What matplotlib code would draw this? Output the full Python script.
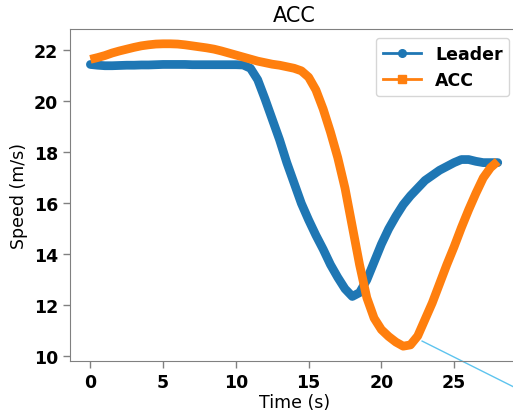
import matplotlib
matplotlib.use("Agg")
import matplotlib.pyplot as plt
from matplotlib.lines import Line2D

# Time samples (s)
time = [0, 0.5, 1, 1.5, 2, 2.5, 3, 3.5, 4, 4.5, 5, 5.5, 6, 6.5, 7, 7.5, 8, 8.5,
        9, 9.5, 10, 10.5, 11, 11.5, 12, 12.5, 13, 13.5, 14, 14.5, 15, 15.5, 16,
        16.5, 17, 17.5, 18, 18.5, 19, 19.5, 20, 20.5, 21, 21.5, 22, 22.5, 23,
        23.5, 24, 24.5, 25, 25.5, 26, 26.5, 27, 27.5, 28]

# Leader vehicle speed (m/s)
leader_speed = [21.45, 21.42, 21.40, 21.40, 21.41, 21.42, 21.42, 21.43, 21.43,
                21.44, 21.45, 21.45, 21.45, 21.45, 21.44, 21.44, 21.44, 21.44,
                21.44, 21.44, 21.44, 21.43, 21.30, 20.85, 20.10, 19.30, 18.50,
                17.60, 16.80, 16.00, 15.35, 14.75, 14.20, 13.60, 13.10, 12.65,
                12.35, 12.50, 13.00, 13.70, 14.40, 15.00, 15.50, 15.95, 16.30,
                16.60, 16.90, 17.10, 17.30, 17.45, 17.60, 17.72, 17.72, 17.65,
                17.60, 17.60, 17.60]

# ACC-controlled vehicle speed (m/s)
acc_speed = [21.65, 21.72, 21.80, 21.90, 21.98, 22.05, 22.12, 22.18, 22.22,
             22.25, 22.26, 22.26, 22.25, 22.22, 22.18, 22.14, 22.10, 22.05,
             21.98, 21.90, 21.82, 21.74, 21.66, 21.58, 21.52, 21.46, 21.42,
             21.36, 21.30, 21.20, 20.95, 20.45, 19.70, 18.80, 17.80, 16.60,
             15.10, 13.60, 12.30, 11.50, 11.05, 10.78, 10.56, 10.40, 10.45,
             10.80, 11.45, 12.10, 12.85, 13.60, 14.30, 15.05, 15.75, 16.40,
             17.00, 17.40, 17.65]

# Pointer line leaving the plot towards the lower right
pointer_t = [22.8, 30.5]
pointer_v = [10.6, 8.4]

blue = "#1f77b4"
orange = "#ff7f0e"

fig = plt.figure(figsize=(5.13, 4.14), dpi=100)
ax = fig.add_axes([0.1365, 0.1263, 0.8735, 0.8012])

ax.plot(time, leader_speed, color=blue, lw=6.3,
        solid_joinstyle="round", solid_capstyle="round")
ax.plot(time, acc_speed, color=orange, lw=6.3,
        solid_joinstyle="round", solid_capstyle="butt")
ax.plot(pointer_t, pointer_v, color="#5ec4ee", lw=1, clip_on=False)

ax.set_xlim(-1.4, 29.4)
ax.set_ylim(9.83, 22.84)
ax.set_xticks([0, 5, 10, 15, 20, 25])
ax.set_yticks([10, 12, 14, 16, 18, 20, 22])

for side in ["left", "bottom", "top"]:
    ax.spines[side].set_color("#808080")
ax.spines["right"].set_visible(False)
ax.tick_params(colors="#808080", labelcolor="black", length=5, width=1)
for lab in ax.get_xticklabels() + ax.get_yticklabels():
    lab.set_fontweight("bold")
    lab.set_fontsize(12.5)

ax.set_xlabel("Time (s)", fontsize=12.5, labelpad=2)
ax.set_ylabel("Speed (m/s)", fontsize=12.5)
ax.set_title("ACC", fontsize=15, pad=6)

handles = [Line2D([], [], color=blue, lw=2, marker="o", ms=5.5, label="Leader"),
           Line2D([], [], color=orange, lw=2, marker="s", ms=5.5, label="ACC")]
ax.legend(handles=handles, loc="upper right", prop={"weight": "bold", "size": 12.5},
          handlelength=2.2, borderaxespad=0.5)

fig.savefig("out.png", dpi=100)
